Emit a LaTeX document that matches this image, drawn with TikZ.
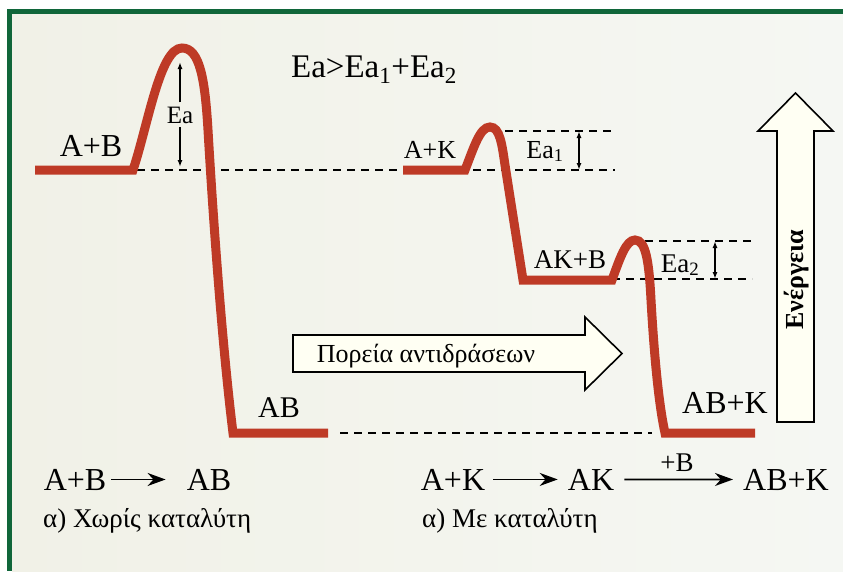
\documentclass[tikz,border=0pt]{standalone}
\usepackage{fontspec}
\setmainfont{Liberation Serif}
\newfontfamily\timesfont{Liberation Serif}
\usetikzlibrary{arrows.meta}
\definecolor{framegreen}{RGB}{16,102,58}
\definecolor{paperleft}{RGB}{241,241,231}
\definecolor{paperright}{RGB}{245,247,243}
\definecolor{curvered}{RGB}{190,58,38}
\definecolor{arrowfill}{RGB}{255,255,243}
\newcommand{\lblsize}[1]{\timesfont\fontsize{#1}{#1}\selectfont}

\begin{document}
\begin{tikzpicture}[x=1pt, y=-1pt,
    energy/.style={curvered, line width=9pt},
    guide/.style={black, line width=1.6pt, dash pattern=on 8pt off 6pt},
    gap/.style={{Latex[length=7pt,width=5pt]}-{Latex[length=7pt,width=5pt]}, line width=1.4pt},
    halfgap/.style={-{Latex[length=7pt,width=5pt]}, line width=1.4pt},
    blockarrow/.style={draw=black, line width=1.6pt, fill=arrowfill, line join=miter},
    rxn/.style={-{Stealth[length=18pt,width=13pt]}, line width=1.8pt},
    lbl/.style={inner sep=0pt, anchor=base}]
    \useasboundingbox (0,0) rectangle (843,571);
    \fill[white] (0,0) rectangle (843,571);
    \fill[framegreen] (7,9) rectangle (843,571);
    \shade[left color=paperleft, right color=paperright] (12,14) rectangle (843,571);

    \draw[guide] (137,170) -- (615,170);
    \draw[guide] (505,131) -- (615,131);
    \draw[guide] (645,241) -- (752,241);
    \draw[guide] (612,279) -- (752,279);
    \draw[guide] (340,433) -- (652,433);

    \draw[energy] (35,170) -- (133,170) .. controls (148,125) and (160,48) .. (182,48)
        .. controls (200,48) and (205,80) .. (208,130)
        .. controls (215,250) and (224,360) .. (233,433) -- (328,433);
    \draw[energy] (403,170) -- (465,170) .. controls (474,147) and (480,127) .. (490,127)
        .. controls (500,127) and (502,145) .. (505,165)
        -- (523,280) -- (612,280) .. controls (620,258) and (626,240) .. (635,240)
        .. controls (646,240) and (649,262) .. (651,300)
        .. controls (655,370) and (660,410) .. (665,433) -- (755,433);

    \node[lbl, font=\lblsize{32}] (ab) at (91,156) {A+B};
    \node[lbl, font=\lblsize{25}] (ea) at (180,123) {Ea};
    \coordinate (eatop) at (180,62);
    \coordinate (eabot) at (180,167);
    \draw[halfgap] (ea.north) ++(0,-4) -- (eatop);
    \draw[halfgap] (ea.south) ++(0,4) -- (eabot);
    \node[lbl, font=\lblsize{33}] (compare) at (374,77) {Ea>Ea\textsubscript{1}+Ea\textsubscript{2}};

    \node[lbl, font=\lblsize{26}] (ak) at (430,158) {A+K};
    \node[lbl, font=\lblsize{26}] (eaone) at (545,158) {Ea\textsubscript{1}};
    \coordinate (eaonetop) at (579,131);
    \coordinate (eaonebot) at (579,170);
    \draw[gap] (eaonetop) -- (eaonebot);
    \node[lbl, font=\lblsize{27}] (akb) at (570,268) {AK+B};
    \node[lbl, font=\lblsize{27}] (eatwo) at (680,272) {Ea\textsubscript{2}};
    \coordinate (eatwotop) at (715,241);
    \coordinate (eatwobot) at (715,279);
    \draw[gap] (eatwotop) -- (eatwobot);
    \node[lbl, font=\lblsize{32}] (abk) at (725,413) {AB+K};
    \node[lbl, font=\lblsize{30}] (abonly) at (279,417) {AB};

    \draw[blockarrow] (293,335) -- (585,335) -- (585,317) -- (622,353.5) -- (585,390)
        -- (585,372) -- (293,372) -- cycle;
    \node[lbl, font=\lblsize{26}] (course) at (426,362) {Πορεία αντιδράσεων};
    \draw[blockarrow] (777,422) -- (777,131) -- (758,131) -- (795.5,93) -- (833,131)
        -- (814,131) -- (814,422) -- cycle;
    \node[font=\lblsize{26}\bfseries, rotate=90, inner sep=0pt] (energylbl) at (797,280) {Ενέργεια};

    \node[lbl, font=\lblsize{32}] (rone) at (75,490) {A+B};
    \node[lbl, font=\lblsize{32}] (pone) at (209,490) {AB};
    \draw[rxn, shorten <=5pt, shorten >=21pt] (rone) -- (pone);
    \node[font=\lblsize{27}, anchor=base west, inner sep=0pt] (capone) at (43,527) {α) Χωρίς καταλύτη};

    \node[lbl, font=\lblsize{32}] (rtwo) at (453,490) {A+K};
    \node[lbl, font=\lblsize{32}] (mid) at (591,490) {AK};
    \node[lbl, font=\lblsize{32}] (ptwo) at (786,490) {AB+K};
    \draw[rxn, shorten <=8pt, shorten >=10pt] (rtwo) -- (mid);
    \draw[rxn, shorten <=10pt, shorten >=10pt] (mid) -- (ptwo);
    \node[lbl, font=\lblsize{27}] (plusb) at (677,471) {+B};
    \node[font=\lblsize{27}, anchor=base west, inner sep=0pt] (captwo) at (422,527) {α) Με καταλύτη};
\end{tikzpicture}
\end{document}
